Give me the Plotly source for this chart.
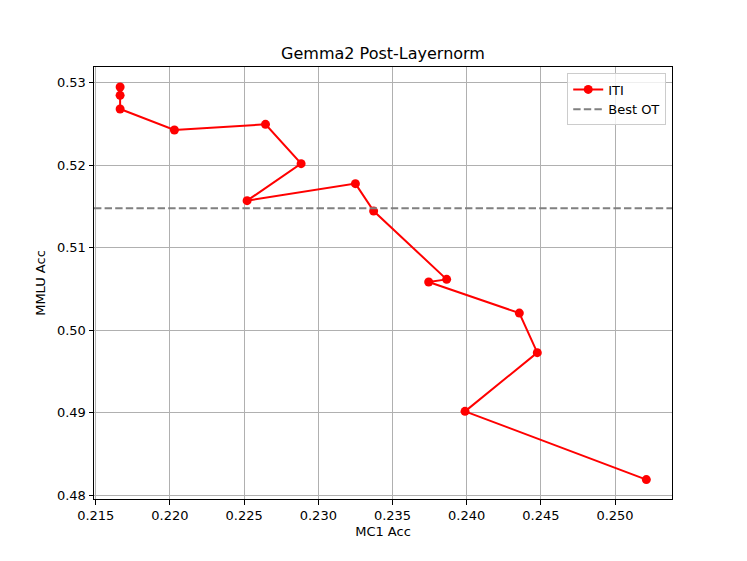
import plotly.graph_objects as go

# Data
mc1_acc = [0.21664, 0.21664, 0.21664, 0.22030, 0.22644, 0.22884, 0.22520,
           0.23250, 0.23373, 0.23865, 0.23744, 0.24355, 0.24476, 0.23989, 0.25211]
mmlu_acc = [0.52946, 0.52845, 0.52679, 0.52425, 0.52494, 0.52018, 0.51570,
            0.51776, 0.51444, 0.50617, 0.50585, 0.50209, 0.49730, 0.49019, 0.48193]
best_ot = 0.51477

x_range = [0.21488, 0.25384]
y_range = [0.47958, 0.53188]
x_ticks = [0.215, 0.220, 0.225, 0.230, 0.235, 0.240, 0.245, 0.250]
x_tick_labels = ["0.215", "0.220", "0.225", "0.230", "0.235", "0.240", "0.245", "0.250"]
y_ticks = [0.48, 0.49, 0.50, 0.51, 0.52, 0.53]
y_tick_labels = ["0.48", "0.49", "0.50", "0.51", "0.52", "0.53"]

FONT = "DejaVu Sans"

fig = go.Figure()
fig.add_trace(go.Scatter(
    x=mc1_acc, y=mmlu_acc, mode="lines+markers", name="ITI",
    line=dict(color="#ff0000", width=2),
    marker=dict(color="#ff0000", size=9),
))
fig.add_trace(go.Scatter(
    x=x_range, y=[best_ot, best_ot], mode="lines", name="Best OT",
    line=dict(color="#808080", width=2, dash="7.4px,3.2px"),
))

axis_common = dict(
    showline=True, linecolor="black", linewidth=1, mirror=True,
    ticks="outside", ticklen=4.5, tickwidth=1, tickcolor="black",
    showgrid=True, gridcolor="#b0b0b0", gridwidth=1,
    zeroline=False,
    tickfont=dict(family=FONT, size=13, color="black"),
)

fig.update_xaxes(range=x_range, tickvals=x_ticks, ticktext=x_tick_labels,
                 title=dict(text="MC1 Acc", font=dict(family=FONT, size=13, color="black"), standoff=4),
                 **axis_common)
fig.update_yaxes(range=y_range, tickvals=y_ticks, ticktext=y_tick_labels,
                 title=dict(text="MMLU Acc", font=dict(family=FONT, size=13, color="black"), standoff=8),
                 **axis_common)

fig.update_layout(
    width=747, height=561,
    margin=dict(l=86, r=83, t=59, b=70),
    paper_bgcolor="white", plot_bgcolor="white",
    font=dict(family=FONT, size=13, color="black"),
    title=dict(text="Gemma2 Post-Layernorm", x=0.5, xref="paper", xanchor="center",
               y=1 - 45 / 561, yref="container", yanchor="middle",
               font=dict(family=FONT, size=16, color="black")),
    showlegend=True,
    legend=dict(x=0.99, y=0.985, xanchor="right", yanchor="top",
                bgcolor="rgba(255,255,255,0.8)", bordercolor="#cccccc", borderwidth=1,
                font=dict(family=FONT, size=13, color="black"),
                tracegroupgap=0, itemwidth=30),
)

fig.write_html("out.html")
